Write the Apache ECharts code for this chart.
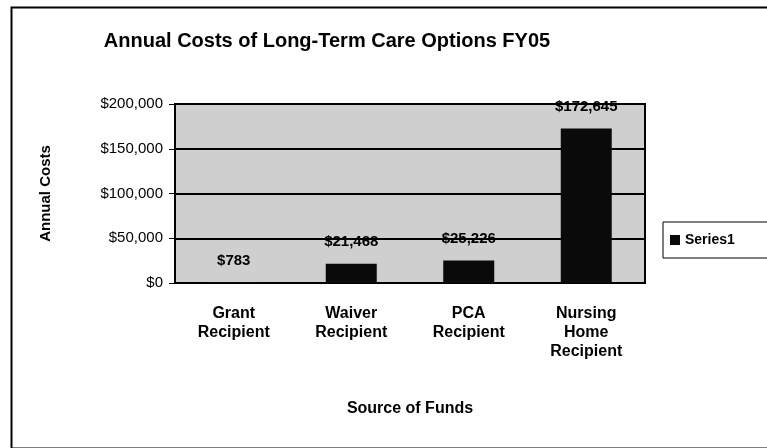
<!DOCTYPE html>
<html><head><meta charset="utf-8">
<script src="https://cdn.jsdelivr.net/npm/echarts@6/dist/echarts.min.js"></script>
<style>html,body{margin:0;padding:0;background:#fff}#c{width:767px;height:448px}</style>
</head><body><div id="c"></div>
<script>
var categories = ["Grant\nRecipient", "Waiver\nRecipient", "PCA\nRecipient", "Nursing\nHome\nRecipient"];
var values = [783, 21468, 25226, 172645];
var yTicks = [0, 50000, 100000, 150000, 200000];
var seriesName = "Series1";

function money(v){ return "$" + Math.round(v).toLocaleString("en-US"); }

var chart = echarts.init(document.getElementById('c'), null, {renderer:'canvas'});
var font = 'Liberation Sans, Arial, sans-serif';
chart.setOption({
  backgroundColor: '#fff',
  animation: false,
  title: {
    text: 'Annual Costs of Long-Term Care Options FY05',
    left: 322, top: 26, textAlign: 'center',
    textStyle: {fontFamily: font, fontWeight: 'bold', fontSize: 20, color: '#000'}
  },
  graphic: [{
    type: 'rect', left: 9, top: 5, z: -1,
    shape: {width: 820, height: 441},
    style: {fill: null, stroke: '#000', lineWidth: 2}
  }],
  legend: {
    show: true, data: [seriesName],
    left: 663, top: 222, orient: 'vertical',
    borderColor: '#000', borderWidth: 1,
    padding: [11, 40, 11, 7],
    icon: 'rect', itemWidth: 10, itemHeight: 10, itemGap: 4,
    textStyle: {fontFamily: font, fontWeight: 'bold', fontSize: 14, color: '#000'}
  },
  grid: {
    left: 175, right: 122, top: 104, bottom: 165,
    show: true, backgroundColor: '#cfcfcf', borderColor: '#000', borderWidth: 2
  },
  xAxis: {
    type: 'category', data: categories,
    name: 'Source of Funds', nameLocation: 'middle', nameGap: 118,
    nameTextStyle: {fontFamily: font, fontWeight: 'bold', fontSize: 16, color: '#000'},
    axisLine: {lineStyle: {color: '#000', width: 2}},
    axisTick: {show: false},
    axisLabel: {fontFamily: font, fontWeight: 'bold', fontSize: 16, color: '#000', margin: 21, lineHeight: 19, interval: 0}
  },
  yAxis: {
    type: 'value', min: yTicks[0], max: yTicks[yTicks.length-1], interval: yTicks[1]-yTicks[0],
    name: 'Annual Costs', nameLocation: 'middle', nameGap: 122, nameRotate: 90,
    nameTextStyle: {fontFamily: font, fontWeight: 'bold', fontSize: 15, color: '#000'},
    axisLine: {show: true, lineStyle: {color: '#000', width: 2}},
    axisTick: {show: true, length: 6, lineStyle: {color: '#000'}},
    axisLabel: {fontFamily: font, fontSize: 15, color: '#000', margin: 12, formatter: money},
    splitLine: {show: true, lineStyle: {color: '#000', width: 2}}
  },
  series: [{
    name: seriesName, type: 'bar', data: values, barWidth: 51,
    itemStyle: {color: '#0a0a0a'},
    label: {show: true, position: 'top', distance: 14, formatter: function(p){return money(p.value);},
      fontFamily: font, fontWeight: 'bold', fontSize: 15, color: '#000'}
  }]
});
</script></body></html>
